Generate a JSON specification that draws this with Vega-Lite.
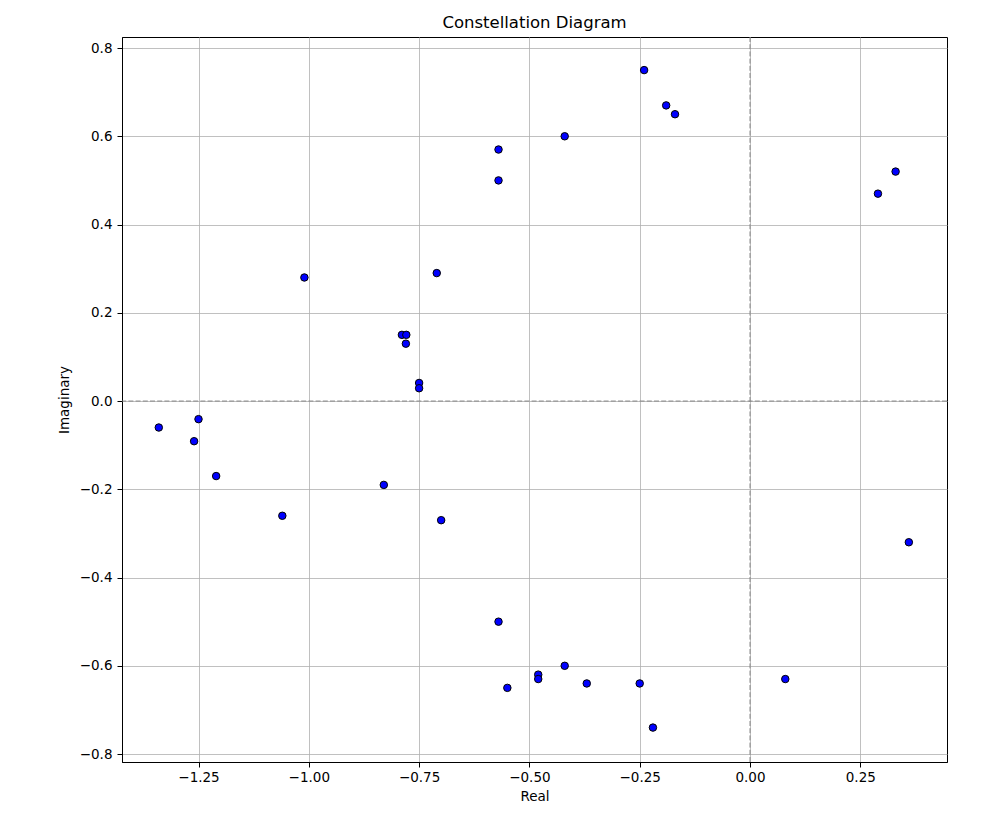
{
  "$schema": "https://vega.github.io/schema/vega-lite/v6.json",
  "autosize": "none",
  "width": 825,
  "height": 725,
  "padding": {"left": 122, "top": 37, "right": 50, "bottom": 59},
  "background": "white",
  "config": {
    "font": "DejaVu Sans",
    "view": {"stroke": "black", "strokeWidth": 1},
    "axis": {
      "labelFont": "DejaVu Sans",
      "titleFont": "DejaVu Sans",
      "labelFontSize": 13.5,
      "titleFontSize": 13.5,
      "titleFontWeight": "normal",
      "labelColor": "black",
      "titleColor": "black",
      "domainColor": "black",
      "tickColor": "black",
      "tickSize": 5,
      "gridColor": "#b0b0b0",
      "gridWidth": 0.8
    },
    "title": {"font": "DejaVu Sans", "fontSize": 16.5, "fontWeight": "normal", "color": "black", "offset": 5, "baseline": "alphabetic"}
  },
  "title": {"text": "Constellation Diagram", "anchor": "middle"},
  "layer": [
    {
      "data": {"values": [{"v": 0}]},
      "mark": {"type": "rule", "color": "#808080", "strokeDash": [5, 2.2], "strokeWidth": 1, "opacity": 0.9},
      "encoding": {"y": {"field": "v", "type": "quantitative", "scale": {"domain": [-0.818, 0.825]}}}
    },
    {
      "data": {"values": [{"v": 0}]},
      "mark": {"type": "rule", "color": "#808080", "strokeDash": [5, 2.2], "strokeWidth": 1, "opacity": 0.9},
      "encoding": {"x": {"field": "v", "type": "quantitative", "scale": {"domain": [-1.4234, 0.4465]}}}
    },
    {
      "data": {"values": [
        {"re": -0.240, "im": 0.750},
        {"re": -0.190, "im": 0.670},
        {"re": -0.170, "im": 0.650},
        {"re": -0.420, "im": 0.600},
        {"re": -0.570, "im": 0.570},
        {"re": -0.570, "im": 0.500},
        {"re": 0.290, "im": 0.470},
        {"re": 0.330, "im": 0.520},
        {"re": -1.010, "im": 0.280},
        {"re": -0.710, "im": 0.290},
        {"re": -0.789, "im": 0.150},
        {"re": -0.779, "im": 0.150},
        {"re": -0.780, "im": 0.130},
        {"re": -0.750, "im": 0.041},
        {"re": -0.750, "im": 0.029},
        {"re": -1.340, "im": -0.060},
        {"re": -1.250, "im": -0.041},
        {"re": -1.260, "im": -0.091},
        {"re": -1.210, "im": -0.170},
        {"re": -1.060, "im": -0.260},
        {"re": -0.830, "im": -0.190},
        {"re": -0.700, "im": -0.270},
        {"re": 0.360, "im": -0.320},
        {"re": -0.570, "im": -0.500},
        {"re": -0.480, "im": -0.620},
        {"re": -0.480, "im": -0.630},
        {"re": -0.550, "im": -0.650},
        {"re": -0.420, "im": -0.600},
        {"re": -0.370, "im": -0.640},
        {"re": -0.250, "im": -0.640},
        {"re": -0.220, "im": -0.740},
        {"re": 0.080, "im": -0.630}
      ]},
      "mark": {"type": "point", "filled": true, "shape": "circle", "fill": "#0000ff", "stroke": "black", "strokeWidth": 1, "size": 56, "opacity": 1, "fillOpacity": 1},
      "encoding": {
        "x": {
          "field": "re", "type": "quantitative", "title": "Real",
          "scale": {"domain": [-1.4234, 0.4465], "nice": false, "zero": false},
          "axis": {"values": [-1.25, -1.0, -0.75, -0.5, -0.25, 0.0, 0.25], "format": ".2f", "labelPadding": 3, "titlePadding": 6}
        },
        "y": {
          "field": "im", "type": "quantitative", "title": "Imaginary",
          "scale": {"domain": [-0.818, 0.825], "nice": false, "zero": false},
          "axis": {"values": [-0.8, -0.6, -0.4, -0.2, 0.0, 0.2, 0.4, 0.6, 0.8], "format": ".1f", "labelPadding": 5, "titlePadding": 8}
        }
      }
    }
  ]
}
